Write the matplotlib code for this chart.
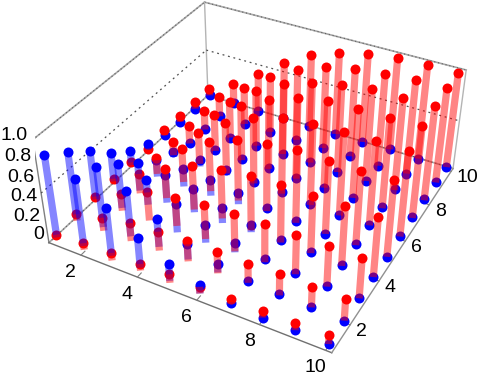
import numpy as np
import matplotlib
matplotlib.use('Agg')
import matplotlib.pyplot as plt
from mpl_toolkits.mplot3d import proj3d

plt.rcParams['font.family'] = ['Liberation Sans', 'DejaVu Sans']

# grid positions, rows below run along x, first row is y=1
xs = np.arange(1, 11)
ys = np.arange(1, 11)
x_ticks = [2, 4, 6, 8, 10]
y_ticks = [2, 4, 6, 8, 10]
z_ticks = [0, 0.2, 0.4, 0.6, 0.8, 1.0]
z_labels = ['0', '0.2', '0.4', '0.6', '0.8', '1.0']

red_z = [
    [.05, .07, .08, .08, .09, .08, .08, .08, .09, .09],
    [.07, .14, .19, .21, .22, .22, .22, .23, .225, .22],
    [.07, .20, .32, .37, .40, .41, .42, .42, .42, .41],
    [.08, .23, .38, .51, .57, .61, .62, .61, .61, .61],
    [.08, .23, .42, .58, .69, .75, .78, .77, .77, .78],
    [.06, .23, .42, .61, .75, .835, .865, .88, .88, .88],
    [.10, .24, .44, .63, .77, .875, .93, .94, .94, .95],
    [.10, .24, .43, .63, .78, .88, .94, .98, .98, .98],
    [.10, .24, .42, .63, .785, .89, .95, .98, 1.0, 1.0],
    [.10, .24, .43, .63, .79, .89, .96, .99, 1.0, 1.0],
]
blue_z = [
    [.86, .73, .54, .35, .20, .10, .04, .01, .01, .00],
    [.72, .66, .52, .34, .19, .10, .04, .02, .01, .00],
    [.55, .515, .45, .30, .19, .11, .05, .02, .01, .00],
    [.36, .35, .32, .27, .17, .10, .05, .03, .01, .00],
    [.21, .20, .20, .18, .14, .08, .05, .02, .02, .00],
    [.11, .12, .12, .105, .08, .07, .04, .03, .02, .02],
    [.04, .05, .06, .05, .05, .04, .03, .02, .02, .02],
    [.03, .04, .03, .03, .03, .03, .02, .02, .03, .02],
    [.02, .02, .02, .02, .02, .02, .02, .01, .02, .02],
    [.02, .02, .01, .02, .01, .01, .01, .02, .01, .01],
]
red_end = [
    [.00, .00, .00, .01, .00, .01, .03, .01, .01, .00],
    [.00, .00, .00, .01, .01, .00, .02, .01, .01, .00],
    [.02, .02, .02, .07, .04, .02, .02, .01, .00, .00],
    [.02, .02, .07, .05, .06, .04, .02, .02, .00, .00],
    [.05, .05, .06, .06, .06, .05, .03, .02, .01, .00],
    [.05, .08, .08, .07, .06, .05, .03, .02, .02, .01],
    [.04, .04, .05, .04, .04, .03, .03, .02, .01, .01],
    [.03, .03, .03, .03, .03, .03, .02, .02, .02, .01],
    [.02, .02, .02, .02, .02, .02, .02, .01, .02, .02],
    [.02, .02, .01, .02, .01, .01, .01, .02, .01, .01],
]
blue_end = [
    [.02, .04, .05, .04, .02, .01, .03, .01, .01, .00],
    [.03, .04, .05, .05, .03, .01, .02, .01, .01, .00],
    [.04, .05, .19, .00, .00, .01, .02, .01, .00, .00],
    [.05, .05, .02, .02, .01, .02, .01, .01, .00, .00],
    [.05, .02, .01, .01, .02, .05, .02, .01, .01, .00],
    [.05, .06, .05, .05, .04, .04, .03, .02, .01, .01],
    [.03, .03, .03, .03, .03, .03, .02, .02, .01, .01],
    [.02, .02, .02, .02, .02, .02, .02, .02, .02, .01],
    [.02, .02, .02, .02, .02, .02, .02, .01, .02, .02],
    [.02, .02, .01, .02, .01, .01, .01, .02, .01, .01],
]

lo, hi = 0.82, 10.18
zl, zh = -0.02, 1.02

fig = plt.figure(figsize=(4.82, 3.81), dpi=100)
ax = fig.add_axes([0.0719, 0.0008, 0.9108, 1.1522], projection='3d', computed_zorder=False)
ax.set_xlim(lo, hi)
ax.set_ylim(lo, hi)
ax.set_zlim(zl, zh)
ax.view_init(elev=35.9477, azim=-61.4252, roll=0.1081)
ax.set_proj_type('persp', focal_length=np.exp(-0.8214))
ax.set_box_aspect((1.0074, 1, 0.4056))
ax.set_axis_off()


def edge(p, q, color='#a8a8a8', lw=1.0, ls='-', zo=1):
    ax.plot(*zip(p, q), color=color, lw=lw, ls=ls, zorder=zo)


def label(x, y, z, s, dx, dy, ha):
    # plain 2D text at the projected spot, offset in pixels
    u, v, _ = proj3d.proj_transform(x, y, z, ax.get_proj())
    ax.annotate(s, (u, v), xytext=(dx, dy), textcoords='offset pixels', fontsize=14,
                ha=ha, va='center', zorder=2, annotation_clip=False)


# box
for p, q in [((lo, lo, zh), (lo, hi, zh)), ((lo, hi, zh), (hi, hi, zh)),
             ((lo, lo, zl), (lo, hi, zl)), ((lo, hi, zl), (hi, hi, zl))]:
    edge(p, q, lw=1.2)
    edge(p, q, color='#606060', lw=0.8, ls=(0, (1, 2.5)))
edge((lo, hi, zl), (lo, hi, zh), color='#b4b4b4')
edge((hi, hi, zl), (hi, hi, zh), color='#b4b4b4')
edge((lo, lo, zl), (lo, lo, zh), color='#808080')
edge((lo, lo, zl), (hi, lo, zl), color='#707070')
edge((hi, lo, zl), (hi, hi, zl), color='#909090')
# dotted level at the middle of the box
edge((lo, lo, 0.5), (lo, hi, 0.5), color='#505050', lw=0.9, ls=(0, (1.5, 3)))
edge((lo, hi, 0.5), (hi, hi, 0.5), color='#505050', lw=0.9, ls=(0, (1.5, 3)))

# ticks point into the box
for v in x_ticks:
    edge((v, lo, zl), (v, lo + 0.2, zl), color='#808080', lw=0.8)
    label(v, lo, zl, str(v), -10, -17, 'center')
for v in y_ticks:
    edge((hi, v, zl), (hi - 0.2, v, zl), color='#808080', lw=0.8)
    label(hi, v, zl, str(v), 5.5, -6.5, 'left')
for v, s in zip(z_ticks, z_labels):
    label(lo, lo, v, s, -5, 6, 'right')

# far corner first so nearer stems cover farther ones
order = sorted(((i, j) for j in range(10) for i in range(10)), key=lambda t: t[0] - t[1])
zo = 10
for i, j in order:
    x, y = xs[i], ys[j]
    rz, bz = red_z[j][i], blue_z[j][i]
    dots = [(bz, 'blue'), (rz, 'red')]
    if bz > rz:
        dots.reverse()
    for z, c in dots:
        ax.plot([x], [y], [z], 'o', color=c, ms=7.2, mew=0, zorder=zo)
        zo += 1
    ax.plot([x, x], [y, y], [blue_end[j][i], bz], color=(0, 0, 1), alpha=0.48, lw=5.2,
            solid_capstyle='butt', zorder=zo)
    ax.plot([x, x], [y, y], [red_end[j][i], rz], color=(1, 0, 0), alpha=0.48, lw=5.2,
            solid_capstyle='butt', zorder=zo + 1)
    zo += 2

fig.savefig('out.png', dpi=100)
